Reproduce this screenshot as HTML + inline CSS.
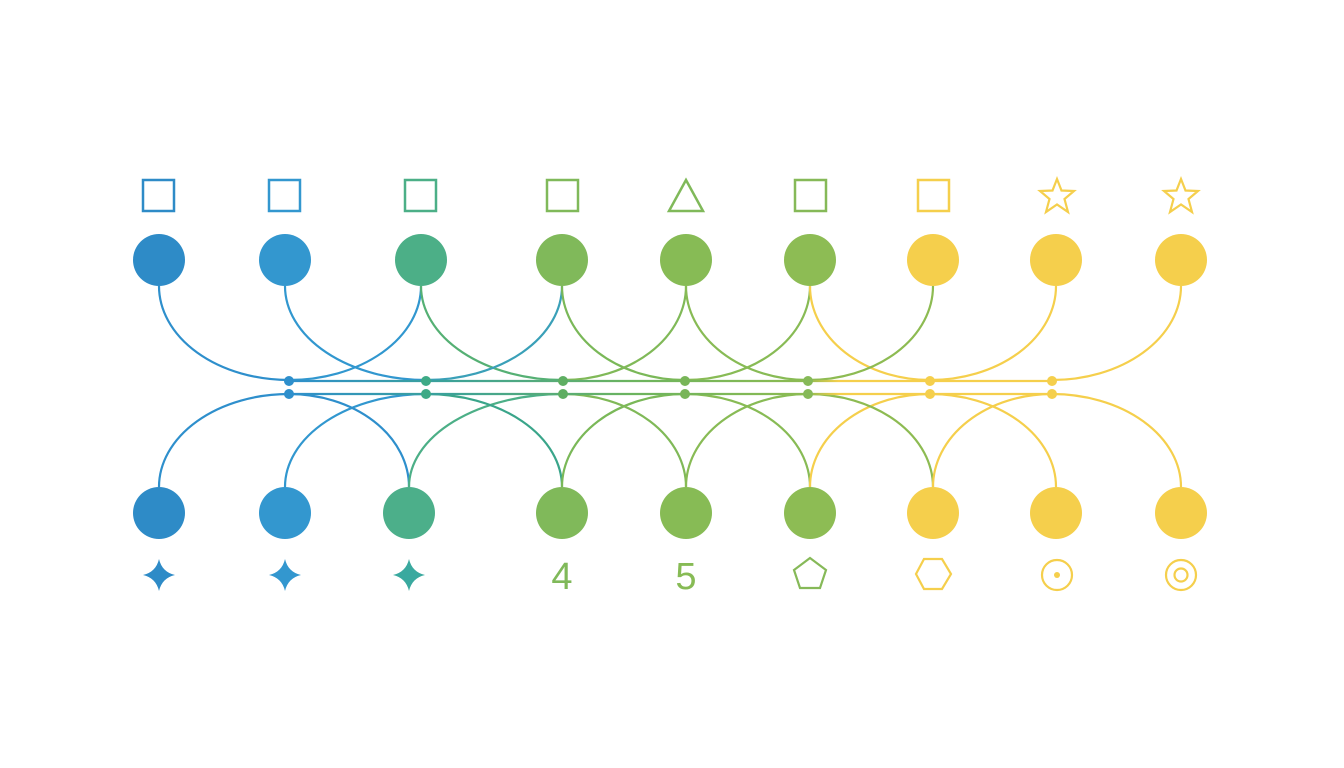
<!DOCTYPE html>
<html><head><meta charset="utf-8"><style>html,body{margin:0;padding:0;background:#fff}svg{display:block}</style></head>
<body>
<svg width="1344" height="768" viewBox="0 0 1344 768" xmlns="http://www.w3.org/2000/svg">
<defs>
<linearGradient id="g" x1="289" y1="0" x2="1052" y2="0" gradientUnits="userSpaceOnUse">
<stop offset="0" stop-color="#2e8fcc"/><stop offset="0.2" stop-color="#3aa19a"/><stop offset="0.45" stop-color="#6cb45e"/><stop offset="0.68" stop-color="#8dbb52"/><stop offset="0.72" stop-color="#f5cf4c"/><stop offset="1" stop-color="#f5cf4c"/>
</linearGradient>
</defs>
<g fill="none" stroke-width="2.2">
<!-- top curves -->
<path d="M159 286 A130 94 0 0 0 289 380" stroke="#2e8fcc"/>
<path d="M285 286 A141 94 0 0 0 426 380" stroke="#3197cf"/>
<path d="M421 286 A132 94 0 0 1 289 380" stroke="#3197cf"/>
<path d="M421 286 A142 94 0 0 0 563 380" stroke="#55b074"/>
<path d="M562 286 A136 94 0 0 1 426 380" stroke="#3aa0b8"/>
<path d="M562 286 A123 94 0 0 0 685 380" stroke="#7ab858"/>
<path d="M686 286 A123 94 0 0 1 563 380" stroke="#80b958"/>
<path d="M686 286 A122 94 0 0 0 808 380" stroke="#88bb55"/>
<path d="M810 286 A125 94 0 0 1 685 380" stroke="#88bb55"/>
<path d="M810 286 A120 94 0 0 0 930 380" stroke="#f5cf4c"/>
<path d="M933 286 A125 94 0 0 1 808 380" stroke="#8dbb52"/>
<path d="M1056 286 A126 94 0 0 1 930 380" stroke="#f5cf4c"/>
<path d="M1181 286 A129 94 0 0 1 1052 380" stroke="#f5cf4c"/>
<!-- bottom curves -->
<path d="M159 487 A130 93 0 0 1 289 394" stroke="#2e8fcc"/>
<path d="M285 487 A141 93 0 0 1 426 394" stroke="#3197cf"/>
<path d="M289 394 A120 93 0 0 1 409 487" stroke="#2e8fcc"/>
<path d="M409 487 A154 93 0 0 1 563 394" stroke="#4caf87"/>
<path d="M426 394 A136 93 0 0 1 562 487" stroke="#3aa58a"/>
<path d="M562 487 A123 93 0 0 1 685 394" stroke="#7ab858"/>
<path d="M563 394 A123 93 0 0 1 686 487" stroke="#80b958"/>
<path d="M686 487 A122 93 0 0 1 808 394" stroke="#88bb55"/>
<path d="M685 394 A125 93 0 0 1 810 487" stroke="#88bb55"/>
<path d="M810 487 A120 93 0 0 1 930 394" stroke="#f5cf4c"/>
<path d="M808 394 A125 93 0 0 1 933 487" stroke="#8dbb52"/>
<path d="M933 487 A119 93 0 0 1 1052 394" stroke="#f5cf4c"/>
<path d="M930 394 A126 93 0 0 1 1056 487" stroke="#f5cf4c"/>
<path d="M1052 394 A129 93 0 0 1 1181 487" stroke="#f5cf4c"/>
<!-- horizontal lines -->
<line x1="289" y1="381" x2="1052" y2="381" stroke="url(#g)"/>
<line x1="289" y1="394" x2="1052" y2="394" stroke="url(#g)"/>
</g>
<!-- junctions -->
<g>
<circle cx="289" cy="381" r="5" fill="#2e8fcc"/><circle cx="289" cy="394" r="5" fill="#2e8fcc"/>
<circle cx="426" cy="381" r="5" fill="#3eaa86"/><circle cx="426" cy="394" r="5" fill="#3eaa86"/>
<circle cx="563" cy="381" r="5" fill="#5eae62"/><circle cx="563" cy="394" r="5" fill="#5eae62"/>
<circle cx="685" cy="381" r="5" fill="#78b558"/><circle cx="685" cy="394" r="5" fill="#78b558"/>
<circle cx="808" cy="381" r="5" fill="#86b958"/><circle cx="808" cy="394" r="5" fill="#86b958"/>
<circle cx="930" cy="381" r="5" fill="#f5cf4c"/><circle cx="930" cy="394" r="5" fill="#f5cf4c"/>
<circle cx="1052" cy="381" r="5" fill="#f5cf4c"/><circle cx="1052" cy="394" r="5" fill="#f5cf4c"/>
</g>
<!-- top nodes -->
<circle cx="159" cy="260" r="26" fill="#2e8bc7"/>
<circle cx="285" cy="260" r="26" fill="#3397cf"/>
<circle cx="421" cy="260" r="26" fill="#4caf87"/>
<circle cx="562" cy="260" r="26" fill="#80b95a"/>
<circle cx="686" cy="260" r="26" fill="#87bb55"/>
<circle cx="810" cy="260" r="26" fill="#8dbc54"/>
<circle cx="933" cy="260" r="26" fill="#f5cf4c"/>
<circle cx="1056" cy="260" r="26" fill="#f5cf4c"/>
<circle cx="1181" cy="260" r="26" fill="#f5cf4c"/>
<!-- bottom nodes -->
<circle cx="159" cy="513" r="26" fill="#2e8bc7"/>
<circle cx="285" cy="513" r="26" fill="#3397cf"/>
<circle cx="409" cy="513" r="26" fill="#4caf8a"/>
<circle cx="562" cy="513" r="26" fill="#80b95a"/>
<circle cx="686" cy="513" r="26" fill="#87bb55"/>
<circle cx="810" cy="513" r="26" fill="#8dbc54"/>
<circle cx="933" cy="513" r="26" fill="#f5cf4c"/>
<circle cx="1056" cy="513" r="26" fill="#f5cf4c"/>
<circle cx="1181" cy="513" r="26" fill="#f5cf4c"/>
<!-- top symbols -->
<g fill="none" stroke-width="2.5">
<rect x="143" y="180" width="31" height="31" stroke="#2e8bc7"/>
<rect x="269" y="180" width="31" height="31" stroke="#3397cf"/>
<rect x="405" y="180" width="31" height="31" stroke="#4caf87"/>
<rect x="547" y="180" width="31" height="31" stroke="#80b95a"/>
<polygon points="686,180 703,211 669,211" stroke="#80b95a"/>
<rect x="795" y="180" width="31" height="31" stroke="#86b958"/>
<rect x="918" y="180" width="31" height="31" stroke="#f5cf4c"/>
<polygon points="1057,179 1061.5,190.5 1074,191 1064.5,199 1068,212 1057,204.5 1046,212 1049.5,199 1040,191 1052.5,190.5" stroke="#f5cf4c" stroke-width="2.2"/>
<polygon points="1181,179 1185.5,190.5 1198,191 1188.5,199 1192,212 1181,204.5 1170,212 1173.5,199 1164,191 1176.5,190.5" stroke="#f5cf4c" stroke-width="2.2"/>
</g>
<!-- bottom symbols -->
<path d="M159 559 Q162 572 175 575 Q162 578 159 591 Q156 578 143 575 Q156 572 159 559Z" fill="#2e8bc7"/>
<path d="M285 559 Q288 572 301 575 Q288 578 285 591 Q282 578 269 575 Q282 572 285 559Z" fill="#3397cf"/>
<path d="M409 559 Q412 572 425 575 Q412 578 409 591 Q406 578 393 575 Q406 572 409 559Z" fill="#3aa99f"/>
<text x="562" y="589" font-family="Liberation Sans, sans-serif" font-size="38" fill="#80b95a" text-anchor="middle">4</text>
<text x="686" y="589" font-family="Liberation Sans, sans-serif" font-size="38" fill="#87bb55" text-anchor="middle">5</text>
<g fill="none" stroke-width="2.2">
<polygon points="810,558 826,570 820,588 800,588 794,570" stroke="#86b958"/>
<polygon points="924,559 942,559 951,574 942,589 924,589 916,574" stroke="#f5cf4c"/>
<circle cx="1057" cy="575" r="15" stroke="#f5cf4c"/>
<circle cx="1181" cy="575" r="15" stroke="#f5cf4c"/>
<circle cx="1181" cy="575" r="6.5" stroke="#f5cf4c"/>
</g>
<circle cx="1057" cy="575" r="3" fill="#f5cf4c"/>
</svg>
</body></html>
